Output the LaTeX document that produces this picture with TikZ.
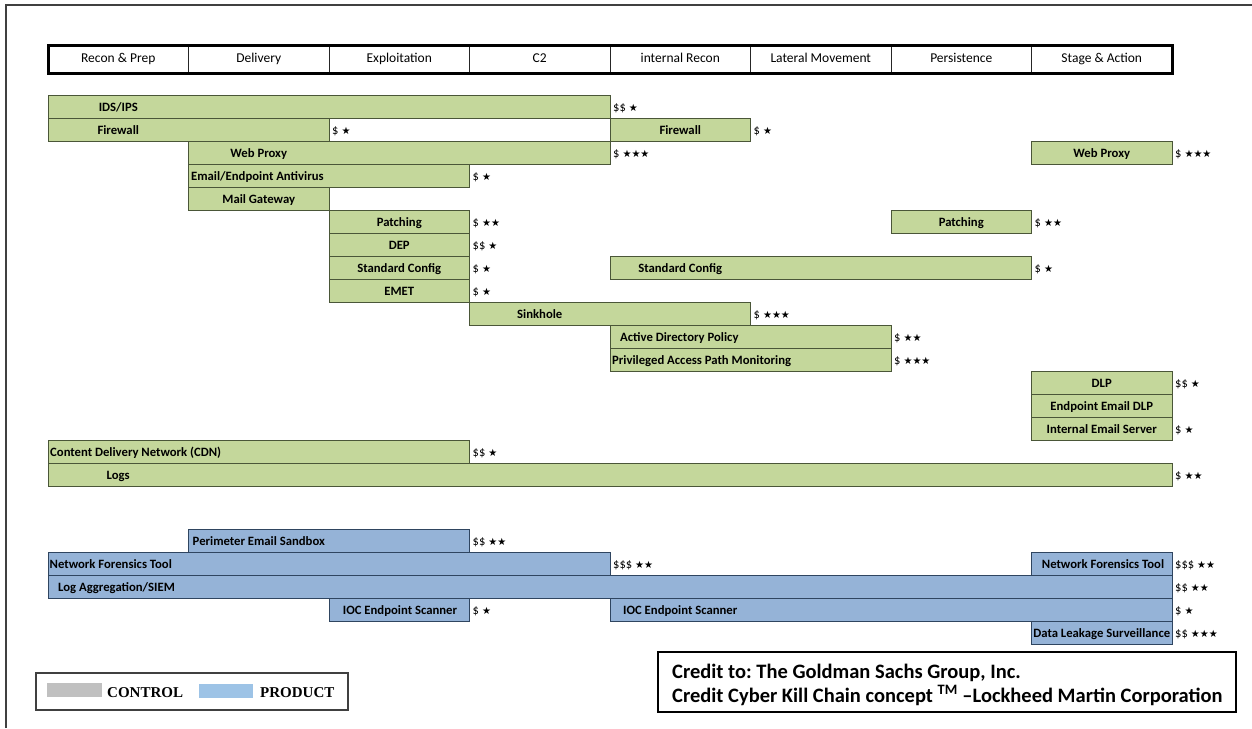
\documentclass[tikz,border=0pt]{standalone}
\usepackage{fontspec}
\setmainfont{Carlito}
\newfontfamily\symfont{DejaVu Sans}
\newfontfamily\legfont{Liberation Serif}
\frenchspacing
\definecolor{gfill}{HTML}{C4D79B}
\definecolor{gline}{HTML}{4A5638}
\definecolor{bfill}{HTML}{95B3D7}
\definecolor{bline}{HTML}{2F4560}
\definecolor{legg}{HTML}{C0C0C0}
\definecolor{legb}{HTML}{9DC3E6}
\newcommand\st[1]{{\symfont\fontsize{10}{10}\selectfont #1}}
\newcommand\cs[2]{#1\hspace{3pt}\st{#2}}
\newcommand\mkbar[5]{\node[#1, minimum width={(#4)-(#3)}] (#2) at (#3,#5) {};}
\newcommand\mklbl[5]{\node[btext, anchor=#2] (#1) at (#3,#4) {#5};}
\newcommand\mkcost[4]{\node[cost] (#1) at (#2,#3) {#4};}
\tikzset{
  gbar/.style={draw=gline, fill=gfill, line width=0.9pt, rectangle, inner sep=0pt, outer sep=0pt, anchor=north west, minimum height=23pt},
  bbar/.style={draw=bline, fill=bfill, line width=0.9pt, rectangle, inner sep=0pt, outer sep=0pt, anchor=north west, minimum height=23pt},
  btext/.style={font=\fontsize{12.7}{14}\selectfont\bfseries, inner sep=0pt},
  cost/.style={font=\fontsize{12.5}{14}\selectfont, anchor=base west, inner sep=0pt},
  hcell/.style={draw=black!85, line width=0.8pt, rectangle, inner sep=0pt, outer sep=0pt, anchor=north west, minimum width=140.5pt, minimum height=28pt, text height=9.5pt, text depth=2.5pt, font=\fontsize{13.5}{16}\selectfont},
}
\begin{document}
\begin{tikzpicture}[x=1pt,y=-1pt]
\useasboundingbox (0,0) rectangle (1252,728);
\fill[white] (0,0) rectangle (1252,728);
% outer frame
\coordinate (fa) at (6,728);
\coordinate (fb) at (6,5);
\coordinate (fc) at (1252,5);
\draw[line width=1.3pt, black!75] (fa) -- (fb) -- (fc);
% header
\node[hcell] (h1) at (48,45) {Recon \& Prep};
\node[hcell] (h2) at (188.5,45) {Delivery};
\node[hcell] (h3) at (329,45) {Exploitation};
\node[hcell] (h4) at (469.5,45) {C2};
\node[hcell] (h5) at (610,45) {internal Recon};
\node[hcell] (h6) at (750.5,45) {Lateral Movement};
\node[hcell] (h7) at (891,45) {Persistence};
\node[hcell] (h8) at (1031.5,45) {Stage \& Action};
\draw[line width=3pt] (h1.north west) rectangle (h8.south east);
% green bars
\mkbar{gbar}{g0}{48}{610}{95}
\mkbar{gbar}{g1a}{48}{329}{118}
\mkbar{gbar}{g1b}{610}{750.5}{118}
\mkbar{gbar}{g2a}{188.5}{610}{141}
\mkbar{gbar}{g2b}{1031.5}{1172}{141}
\mkbar{gbar}{g3}{188.5}{469.5}{164}
\mkbar{gbar}{g4}{188.5}{329}{187}
\mkbar{gbar}{g5a}{329}{469.5}{210}
\mkbar{gbar}{g5b}{891}{1031.5}{210}
\mkbar{gbar}{g6}{329}{469.5}{233}
\mkbar{gbar}{g7a}{329}{469.5}{256}
\mkbar{gbar}{g7b}{610}{1031.5}{256}
\mkbar{gbar}{g8}{329}{469.5}{279}
\mkbar{gbar}{g9}{469.5}{750.5}{302}
\mkbar{gbar}{g10}{610}{891}{325}
\mkbar{gbar}{g11}{610}{891}{348}
\mkbar{gbar}{g12}{1031.5}{1172}{371}
\mkbar{gbar}{g13}{1031.5}{1172}{394}
\mkbar{gbar}{g14}{1031.5}{1172}{417}
\mkbar{gbar}{g15}{48}{469.5}{440}
\mkbar{gbar}{g16}{48}{1172}{463}
% green labels
\mklbl{tg0}{base}{118.25}{111}{IDS/IPS}
\mklbl{tg1a}{base}{118.25}{134}{Firewall}
\mklbl{tg1b}{base}{680.25}{134}{Firewall}
\mklbl{tg2a}{base}{258.75}{157}{Web Proxy}
\mklbl{tg2b}{base}{1101.75}{157}{Web Proxy}
\mklbl{tg3}{base west}{191}{180}{Email/Endpoint Antivirus}
\mklbl{tg4}{base}{258.75}{203}{Mail Gateway}
\mklbl{tg5a}{base}{399.25}{226}{Patching}
\mklbl{tg5b}{base}{961.25}{226}{Patching}
\mklbl{tg6}{base}{399.25}{249}{DEP}
\mklbl{tg7a}{base}{399.25}{272}{Standard Config}
\mklbl{tg7b}{base}{680.25}{272}{Standard Config}
\mklbl{tg8}{base}{399.25}{295}{EMET}
\mklbl{tg9}{base}{539.75}{318}{Sinkhole}
\mklbl{tg10}{base west}{620}{341}{Active Directory Policy}
\mklbl{tg11}{base west}{612}{364}{Privileged Access Path Monitoring}
\mklbl{tg12}{base}{1101.75}{387}{DLP}
\mklbl{tg13}{base}{1101.75}{410}{Endpoint Email DLP}
\mklbl{tg14}{base}{1101.75}{433}{Internal Email Server}
\mklbl{tg15}{base west}{50}{456}{Content Delivery Network (CDN)}
\mklbl{tg16}{base}{118.25}{479}{Logs}
% green costs
\mkcost{cg0}{613}{111}{\cs{\$\$}{★}}
\mkcost{cg1a}{332}{134}{\cs{\$}{★}}
\mkcost{cg1b}{753.5}{134}{\cs{\$}{★}}
\mkcost{cg2a}{613}{157}{\cs{\$}{★★★}}
\mkcost{cg2b}{1175}{157}{\cs{\$}{★★★}}
\mkcost{cg3}{472.5}{180}{\cs{\$}{★}}
\mkcost{cg5a}{472.5}{226}{\cs{\$}{★★}}
\mkcost{cg5b}{1034.5}{226}{\cs{\$}{★★}}
\mkcost{cg6}{472.5}{249}{\cs{\$\$}{★}}
\mkcost{cg7a}{472.5}{272}{\cs{\$}{★}}
\mkcost{cg7b}{1034.5}{272}{\cs{\$}{★}}
\mkcost{cg8}{472.5}{295}{\cs{\$}{★}}
\mkcost{cg9}{753.5}{318}{\cs{\$}{★★★}}
\mkcost{cg10}{894}{341}{\cs{\$}{★★}}
\mkcost{cg11}{894}{364}{\cs{\$}{★★★}}
\mkcost{cg12}{1175}{387}{\cs{\$\$}{★}}
\mkcost{cg14}{1175}{433}{\cs{\$}{★}}
\mkcost{cg15}{472.5}{456}{\cs{\$\$}{★}}
\mkcost{cg16}{1175}{479}{\cs{\$}{★★}}
% blue bars
\mkbar{bbar}{b0}{188.5}{469.5}{529}
\mkbar{bbar}{b1a}{48}{610}{552}
\mkbar{bbar}{b1b}{1031.5}{1172}{552}
\mkbar{bbar}{b2}{48}{1172}{575}
\mkbar{bbar}{b3a}{329}{469.5}{598}
\mkbar{bbar}{b3b}{610}{1172}{598}
\mkbar{bbar}{b4}{1031.5}{1172}{621}
% blue labels
\mklbl{tb0}{base west}{192.5}{545}{Perimeter Email Sandbox}
\mklbl{tb1a}{base west}{49.5}{568}{Network Forensics Tool}
\mklbl{tb1b}{base}{1103}{568}{Network Forensics Tool}
\mklbl{tb2}{base west}{58}{591}{Log Aggregation/SIEM}
\mklbl{tb3a}{base}{400}{614}{IOC Endpoint Scanner}
\mklbl{tb3b}{base}{680.25}{614}{IOC Endpoint Scanner}
\mklbl{tb4}{base}{1101.75}{637}{Data Leakage Surveillance}
% blue costs
\mkcost{cb0}{472.5}{545}{\cs{\$\$}{★★}}
\mkcost{cb1a}{613}{568}{\cs{\$\$\$}{★★}}
\mkcost{cb1b}{1175}{568}{\cs{\$\$\$}{★★}}
\mkcost{cb2}{1175}{591}{\cs{\$\$}{★★}}
\mkcost{cb3a}{472.5}{614}{\cs{\$}{★}}
\mkcost{cb3b}{1175}{614}{\cs{\$}{★}}
\mkcost{cb4}{1175}{637}{\cs{\$\$}{★★★}}
% legend
\node[draw=black!75, line width=1.3pt, rectangle, inner sep=0pt, outer sep=0pt, anchor=north west, minimum width=312pt, minimum height=37pt] (legend) at (36,673) {};
\node[fill=legg, rectangle, inner sep=0pt, anchor=north west, minimum width=55pt, minimum height=14pt] (swc) at (47,683) {};
\node[fill=legb, rectangle, inner sep=0pt, anchor=north west, minimum width=54pt, minimum height=14pt] (swp) at (199,684) {};
\node[font=\legfont\bfseries\fontsize{15}{17}\selectfont, anchor=base west, inner sep=0pt] (lc) at (107,697) {CONTROL};
\node[font=\legfont\bfseries\fontsize{15}{17}\selectfont, anchor=base west, inner sep=0pt] (lp) at (260,697) {PRODUCT};
% credit box
\node[draw=black, line width=2.2pt, rectangle, inner sep=0pt, outer sep=0pt, anchor=north west, minimum width=578pt, minimum height=60pt] (credit) at (658,652) {};
\node[font=\bfseries\fontsize{20.5}{24}\selectfont, anchor=base west, inner sep=0pt] (cr1) at (672,678.5) {Credit to: The Goldman Sachs Group, Inc.};
\node[font=\bfseries\fontsize{20.5}{24}\selectfont, anchor=base west, inner sep=0pt] (cr2) at (672,702.5) {Credit Cyber Kill Chain concept \textsuperscript{TM} –Lockheed Martin Corporation};
\end{tikzpicture}
\end{document}
